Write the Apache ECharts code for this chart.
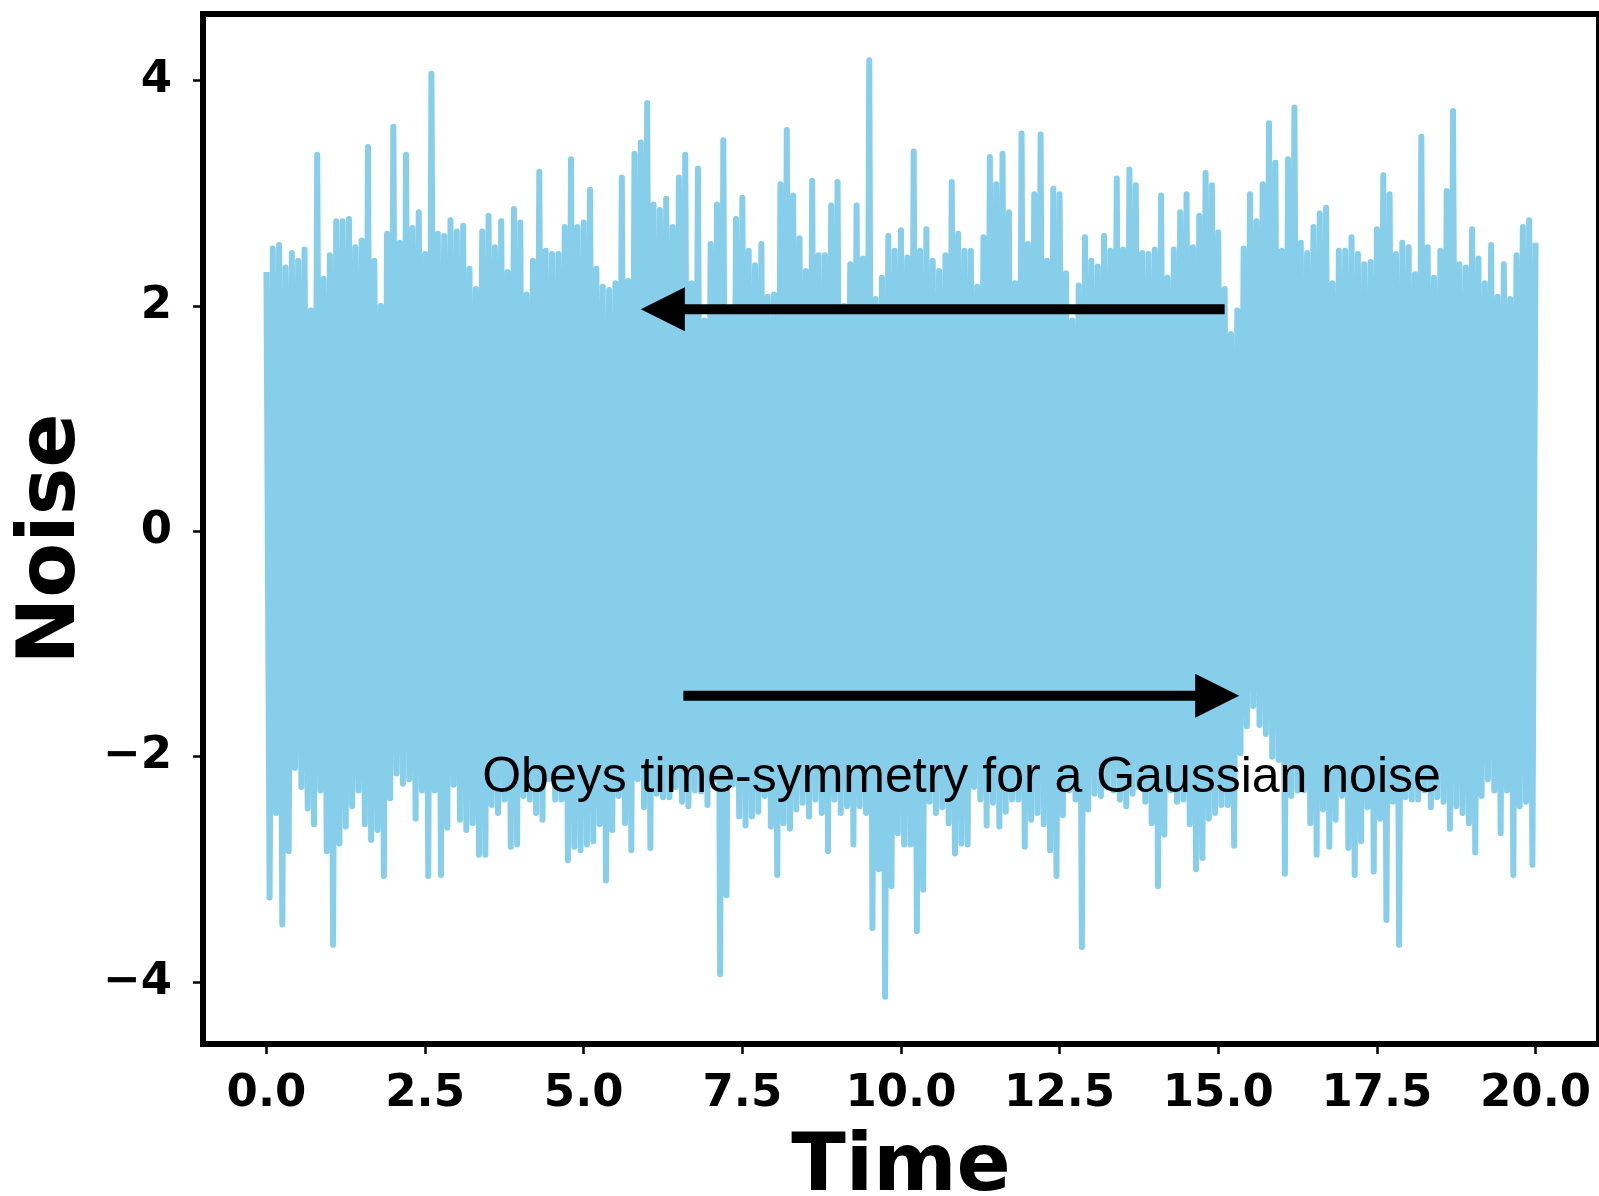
<!DOCTYPE html>
<html>
<head>
<meta charset="utf-8">
<title>Noise</title>
<script src="https://cdn.jsdelivr.net/npm/echarts@6/dist/echarts.min.js"></script>
<style>
  html, body { margin: 0; padding: 0; background: #ffffff; }
  #chart { width: 1599px; height: 1196px; }
</style>
</head>
<body>
<div id="chart"></div>
<script>
// Time between successive samples of the trace (crest, trough, crest, ...)
const SAMPLE_STEP = 0.05;

// Crest samples at t = 0.0, 0.1, ... 20.0
const upperPeaks = [
  2.30, 2.51, 2.54, 2.34, 2.47, 2.40, 2.50, 1.96, 3.34, 2.24,
  2.45, 2.75, 2.75, 2.77, 2.52, 2.58, 3.41, 2.40, 2.00, 2.64,
  3.59, 2.56, 3.34, 2.69, 2.83, 2.46, 4.06, 2.64, 2.62, 2.76,
  2.66, 2.71, 2.33, 2.15, 2.66, 2.80, 2.52, 2.75, 2.30, 2.86,
  2.74, 2.10, 2.40, 3.19, 2.49, 2.46, 2.46, 2.70, 3.30, 2.70,
  2.74, 3.03, 2.33, 2.17, 2.14, 2.20, 3.14, 2.22, 3.35, 3.45,
  3.80, 2.90, 2.85, 2.95, 2.70, 3.14, 3.34, 2.20, 3.22, 1.87,
  2.55, 2.90, 3.47, 1.95, 2.77, 2.96, 2.49, 2.36, 2.55, 2.08,
  2.10, 3.08, 3.56, 2.98, 2.60, 2.31, 3.11, 2.45, 2.45, 2.89,
  3.10, 2.00, 2.37, 2.89, 2.42, 4.18, 2.06, 2.25, 2.62, 2.49,
  2.67, 2.43, 3.37, 2.49, 2.68, 2.40, 2.31, 2.45, 3.10, 2.64,
  2.49, 2.49, 2.17, 2.61, 3.32, 3.08, 3.35, 2.83, 2.20, 3.53,
  2.55, 2.99, 3.52, 2.40, 3.04, 2.99, 2.29, 1.87, 2.18, 2.61,
  2.40, 2.35, 2.62, 2.49, 3.13, 2.50, 3.21, 3.07, 2.47, 2.46,
  2.50, 2.98, 2.25, 2.50, 2.83, 2.99, 2.52, 2.80, 3.18, 3.07,
  2.65, 2.15, 1.75, 1.96, 2.51, 2.99, 2.75, 3.08, 3.62, 3.27,
  2.49, 3.30, 3.76, 2.56, 2.47, 2.70, 2.82, 2.87, 2.20, 2.49,
  2.49, 2.61, 2.46, 2.37, 2.39, 2.68, 3.16, 2.99, 2.46, 2.56,
  2.52, 2.28, 3.50, 2.52, 2.25, 2.49, 3.02, 3.73, 2.37, 2.34,
  2.68, 2.42, 2.20, 2.54, 2.08, 2.37, 2.06, 2.45, 2.70, 2.76,
  2.56
];

// Trough samples at t = 0.05, 0.15, ... 19.95
const lowerPeaks = [
  -3.25, -2.50, -3.49, -2.84, -2.10, -2.27, -2.46, -2.60, -2.30, -2.84,
  -3.67, -2.77, -2.62, -2.44, -2.30, -2.60, -2.74, -2.65, -3.06, -2.37,
  -2.15, -2.24, -2.20, -2.55, -2.30, -3.06, -2.30, -3.05, -2.63, -2.25,
  -2.56, -2.65, -2.59, -2.87, -2.87, -2.43, -2.50, -2.38, -2.80, -2.78,
  -2.35, -2.38, -2.50, -2.56, -2.20, -2.38, -2.38, -2.92, -2.80, -2.83,
  -2.78, -2.75, -2.60, -3.10, -2.65, -2.35, -2.59, -2.83, -2.20, -2.45,
  -2.81, -2.33, -2.36, -2.36, -2.27, -2.40, -2.44, -2.30, -2.31, -2.43,
  -2.20, -3.93, -3.23, -2.25, -2.53, -2.61, -2.53, -2.49, -2.35, -2.62,
  -3.05, -2.59, -2.64, -2.47, -2.41, -2.53, -2.38, -2.50, -2.84, -2.38,
  -2.50, -2.44, -2.78, -2.44, -2.50, -3.52, -3.00, -4.13, -3.15, -2.68,
  -2.78, -2.78, -3.55, -3.18, -2.40, -2.50, -2.45, -2.59, -2.86, -2.77,
  -2.78, -2.27, -2.38, -2.61, -2.41, -2.62, -2.49, -2.38, -2.38, -2.80,
  -2.56, -2.50, -2.60, -2.83, -3.06, -2.52, -2.30, -2.38, -3.69, -2.47,
  -2.33, -2.35, -2.27, -2.30, -2.38, -2.44, -2.33, -2.27, -2.40, -2.59,
  -3.15, -2.69, -2.30, -2.40, -2.38, -2.60, -3.00, -2.90, -2.55, -2.50,
  -2.43, -2.43, -2.79, -1.97, -1.73, -1.55, -1.72, -1.80, -2.00, -2.03,
  -3.04, -2.35, -2.30, -2.30, -2.59, -2.87, -2.47, -2.80, -2.56, -2.35,
  -2.81, -3.05, -2.75, -2.45, -3.02, -2.55, -3.45, -2.40, -3.67, -2.36,
  -2.38, -2.38, -2.30, -2.45, -2.36, -2.40, -2.64, -2.44, -2.50, -2.59,
  -2.85, -2.35, -2.20, -2.30, -2.68, -2.30, -3.05, -2.44, -2.40, -2.96
];

const xTicks = [0, 2.5, 5, 7.5, 10, 12.5, 15, 17.5, 20];
const yTicks = [-4, -2, 0, 2, 4];

// Annotation arrows: [tailTime, tailNoise, tipTime, tipNoise]
const arrows = [
  [15.10, 1.97, 5.90, 1.97],
  [6.57, -1.46, 15.33, -1.46]
];
const noteText = 'Obeys time-symmetry for a Gaussian noise';
const notePos = [3.40, -2.19];

// Interleave crests and troughs into one time-ordered trace
const noise = [];
for (let i = 0; i < upperPeaks.length; i++) {
  noise.push([+(2 * i * SAMPLE_STEP).toFixed(2), upperPeaks[i]]);
  if (i < lowerPeaks.length) {
    noise.push([+((2 * i + 1) * SAMPLE_STEP).toFixed(2), lowerPeaks[i]]);
  }
}

const tickFont = {
  fontFamily: 'DejaVu Sans',
  fontWeight: 'bold',
  fontSize: 45,
  color: '#000'
};
const nameFont = {
  fontFamily: 'DejaVu Sans',
  fontWeight: 'bold',
  fontSize: 80,
  color: '#000'
};

const chart = echarts.init(document.getElementById('chart'), null, { renderer: 'canvas' });

chart.setOption({
  animation: false,
  backgroundColor: '#ffffff',
  grid: {
    left: 203, right: 0, top: 14, bottom: 152,
    outerBoundsMode: 'none',
    containLabel: false,
    show: true,
    borderColor: '#000',
    borderWidth: 6,
    backgroundColor: 'transparent'
  },
  xAxis: {
    type: 'value',
    min: -1,
    max: 21,
    name: 'Time',
    nameLocation: 'middle',
    nameGap: 85,
    nameMoveOverlap: false,
    nameTextStyle: nameFont,
    axisLine: { show: false, onZero: false },
    splitLine: { show: false },
    axisTick: {
      show: true,
      inside: false,
      length: 10,
      customValues: xTicks,
      lineStyle: { color: '#000', width: 2.5 }
    },
    axisLabel: Object.assign({
      margin: 28,
      customValues: xTicks,
      formatter: v => v.toFixed(1)
    }, tickFont)
  },
  yAxis: {
    type: 'value',
    min: -4.55,
    max: 4.59,
    name: 'Noise',
    nameLocation: 'middle',
    nameGap: 110,
    nameMoveOverlap: false,
    nameTextStyle: Object.assign({ padding: [0, 20, 0, 0] }, nameFont),
    axisLine: { show: false, onZero: false },
    splitLine: { show: false },
    axisTick: {
      show: true,
      inside: false,
      length: 10,
      customValues: yTicks,
      lineStyle: { color: '#000', width: 2.5 }
    },
    axisLabel: Object.assign({
      margin: 31,
      customValues: yTicks,
      formatter: v => (v < 0 ? '\u2212' + Math.abs(v) : String(v))
    }, tickFont)
  },
  series: [
    {
      name: 'Noise',
      type: 'line',
      data: noise,
      showSymbol: false,
      symbol: 'none',
      sampling: null,
      silent: true,
      z: 2,
      lineStyle: {
        color: '#87CEEB',
        width: 6,
        join: 'round',
        cap: 'butt'
      }
    },
    {
      type: 'custom',
      coordinateSystem: 'cartesian2d',
      silent: true,
      z: 5,
      data: arrows,
      encode: { x: [0, 2], y: [1, 3] },
      renderItem(params, api) {
        const p1 = api.coord([api.value(0), api.value(1)]);
        const p2 = api.coord([api.value(2), api.value(3)]);
        const dx = p2[0] - p1[0];
        const dy = p2[1] - p1[1];
        const len = Math.hypot(dx, dy);
        const ux = dx / len, uy = dy / len;
        const headLen = 44, headHalf = 22;
        const bx = p2[0] - ux * headLen;
        const by = p2[1] - uy * headLen;
        return {
          type: 'group',
          children: [
            {
              type: 'line',
              shape: { x1: p1[0], y1: p1[1], x2: bx + ux * 2, y2: by + uy * 2 },
              style: { stroke: '#000', lineWidth: 10, lineCap: 'butt' }
            },
            {
              type: 'polygon',
              shape: {
                points: [
                  [p2[0], p2[1]],
                  [bx - uy * headHalf, by + ux * headHalf],
                  [bx + uy * headHalf, by - ux * headHalf]
                ]
              },
              style: { fill: '#000' }
            }
          ]
        };
      }
    },
    {
      type: 'custom',
      coordinateSystem: 'cartesian2d',
      silent: true,
      z: 6,
      data: [notePos],
      renderItem(params, api) {
        const p = api.coord([api.value(0), api.value(1)]);
        return {
          type: 'text',
          x: p[0],
          y: p[1],
          style: {
            text: noteText,
            fill: '#000',
            font: '50px "Liberation Sans", Arial, sans-serif',
            align: 'left',
            verticalAlign: 'middle'
          }
        };
      }
    }
  ]
});
</script>
</body>
</html>
